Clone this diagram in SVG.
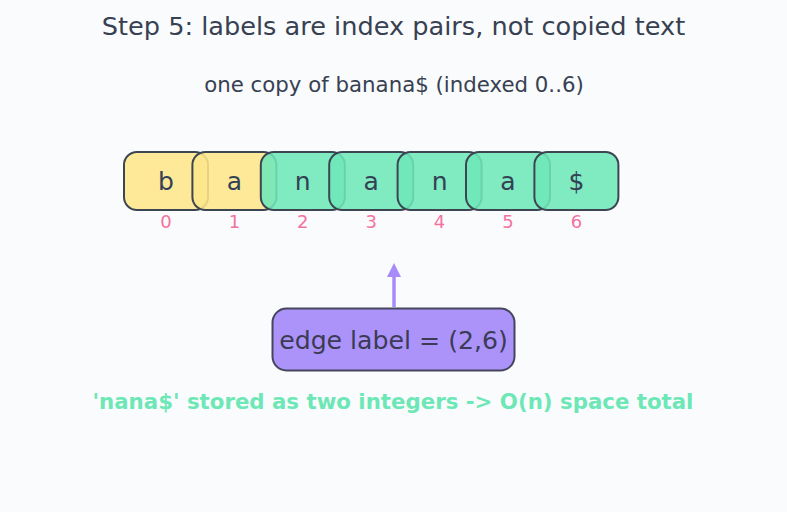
<svg xmlns="http://www.w3.org/2000/svg" width="787" height="512" viewBox="0 0 787 512">
<style>
text{font-family:"DejaVu Sans",Verdana,sans-serif;text-anchor:middle;dominant-baseline:central}
.cell{stroke:#3c4653;stroke-width:2;fill-opacity:0.88}
.y{fill:#fde68a}
.g{fill:#6ee7b7}
.ch{font-size:25px;fill:#334155}
.idx{font-size:18px;fill:#f472a0}
</style>
<defs>
<marker id="ah" markerWidth="14" markerHeight="14" refX="7" refY="7" orient="auto" markerUnits="userSpaceOnUse" viewBox="0 0 14 14">
<path d="M0,0 L14,7 L0,14 z" fill="#a78bfa"/>
</marker>
</defs>
<rect width="787" height="512" fill="#fafbfd"/>
<text x="393.5" y="26" font-size="25.6" fill="#374151">Step 5: labels are index pairs, not copied text</text>
<text x="394" y="84" font-size="21.3" fill="#374151">one copy of banana$ (indexed 0..6)</text>
<g id="c0"><rect class="cell y" x="124" y="152" width="84" height="58" rx="13"/><text class="ch" x="166" y="181">b</text><text class="idx" x="166" y="221">0</text></g>
<g id="c1"><rect class="cell y" x="192.4" y="152" width="84" height="58" rx="13"/><text class="ch" x="234.4" y="181">a</text><text class="idx" x="234.4" y="221">1</text></g>
<g id="c2"><rect class="cell g" x="260.8" y="152" width="84" height="58" rx="13"/><text class="ch" x="302.8" y="181">n</text><text class="idx" x="302.8" y="221">2</text></g>
<g id="c3"><rect class="cell g" x="329.2" y="152" width="84" height="58" rx="13"/><text class="ch" x="371.2" y="181">a</text><text class="idx" x="371.2" y="221">3</text></g>
<g id="c4"><rect class="cell g" x="397.6" y="152" width="84" height="58" rx="13"/><text class="ch" x="439.6" y="181">n</text><text class="idx" x="439.6" y="221">4</text></g>
<g id="c5"><rect class="cell g" x="466" y="152" width="84" height="58" rx="13"/><text class="ch" x="508" y="181">a</text><text class="idx" x="508" y="221">5</text></g>
<g id="c6"><rect class="cell g" x="534.4" y="152" width="84" height="58" rx="13"/><text class="ch" x="576.4" y="181">$</text><text class="idx" x="576.4" y="221">6</text></g>
<g id="connectors">
<line x1="394" y1="307" x2="394" y2="270" stroke="#a78bfa" stroke-width="3.5" marker-end="url(#ah)"/>
</g>
<g id="label">
<rect x="272.5" y="308.5" width="242" height="62" rx="14" fill="#ab93fa" stroke="#45455e" stroke-width="2"/>
<text x="393.5" y="340" font-size="25.2" fill="#3b3b55">edge label = (2,6)</text>
</g>
<text x="393" y="401" font-size="21.3" font-weight="bold" fill="#6ee7b7">'nana$' stored as two integers -&gt; O(n) space total</text>
</svg>
